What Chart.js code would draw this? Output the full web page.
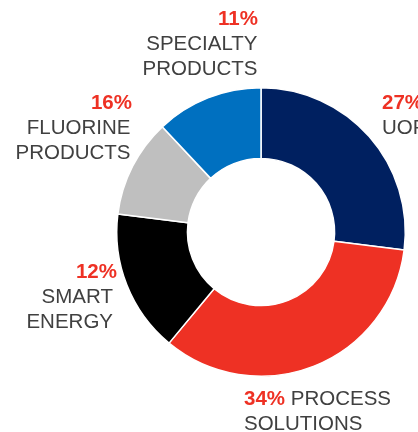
<!DOCTYPE html>
<html>
<head>
<meta charset="utf-8">
<script src="https://cdn.jsdelivr.net/npm/chart.js@4/dist/chart.umd.min.js"></script>
<style>
    html, body { margin: 0; padding: 0; background: #fff; }
    #wrap { position: relative; width: 418px; height: 432px; }
</style>
</head>
<body>
<div id="wrap"><canvas id="segments_chart"></canvas></div>
<script>
// slices as drawn, clockwise from 12 o'clock
var segmentNames = ['UOP', 'PROCESS SOLUTIONS', 'SMART ENERGY', 'FLUORINE PRODUCTS', 'SPECIALTY PRODUCTS'];
var segmentShares = [27, 34, 16, 11, 12];
// percentages as printed next to each segment
var printedShares = ['27%', '34%', '12%', '16%', '11%'];
var segmentColors = ['#002060', '#EE3124', '#000000', '#BFBFBF', '#0070C0'];

var SegmentChart = (function() {

    var fontFamily = '"Liberation Sans", Arial, Helvetica, sans-serif';
    var fontSize = '20.5px ';
    var nameColor = '#404040';
    var pctColor = '#EE3124';
    var lineHeight = 25;

    // where each label block sits (baseline of the first line)
    var labelSpots = [
        { align: 'left',  pctX: 382, nameX: 382,   y: 108.5 },
        { align: 'left',  pctX: 244, nameX: 244,   y: 404.5, inline: true },
        { align: 'right', pctX: 117, nameX: 113,   y: 277.5 },
        { align: 'right', pctX: 132, nameX: 130.5, y: 108.5 },
        { align: 'right', pctX: 258, nameX: 257.5, y: 24.5 }
    ];

    function drawLabels(chart) {
        var ctx = chart.ctx;
        ctx.save();
        ctx.textBaseline = 'alphabetic';
        segmentNames.forEach(function(name, i) {
            var spot = labelSpots[i];
            var words = name.split(' ');
            var y = spot.y;
            if (spot.inline) {
                ctx.textAlign = 'left';
                ctx.font = 'bold ' + fontSize + fontFamily;
                ctx.fillStyle = pctColor;
                ctx.fillText(printedShares[i], spot.pctX, y);
                var w = ctx.measureText(printedShares[i] + ' ').width;
                ctx.font = fontSize + fontFamily;
                ctx.fillStyle = nameColor;
                ctx.fillText(words[0], spot.pctX + w, y);
                words = words.slice(1);
            } else {
                ctx.textAlign = spot.align;
                ctx.font = 'bold ' + fontSize + fontFamily;
                ctx.fillStyle = pctColor;
                ctx.fillText(printedShares[i], spot.pctX, y);
            }
            ctx.textAlign = spot.align;
            ctx.font = fontSize + fontFamily;
            ctx.fillStyle = nameColor;
            words.forEach(function(word, k) {
                ctx.fillText(word, spot.nameX, y + lineHeight * (k + 1));
            });
        });
        ctx.restore();
    }

    function init() {
        new Chart('segments_chart', {
            type: 'doughnut',
            data: {
                labels: segmentNames,
                datasets: [{
                    data: segmentShares,
                    backgroundColor: segmentColors,
                    borderColor: '#ffffff',
                    borderWidth: 1.5
                }]
            },
            options: {
                responsive: true,
                maintainAspectRatio: false,
                animation: false,
                cutout: '51%',
                layout: { padding: { left: 116, top: 87, right: 12, bottom: 55 } },
                plugins: {
                    legend: { display: false },
                    tooltip: { enabled: false }
                }
            },
            plugins: [{
                id: 'segmentLabels',
                afterDraw: drawLabels
            }]
        });
    }

    return { init: init };
})();

SegmentChart.init();
</script>
</body>
</html>
